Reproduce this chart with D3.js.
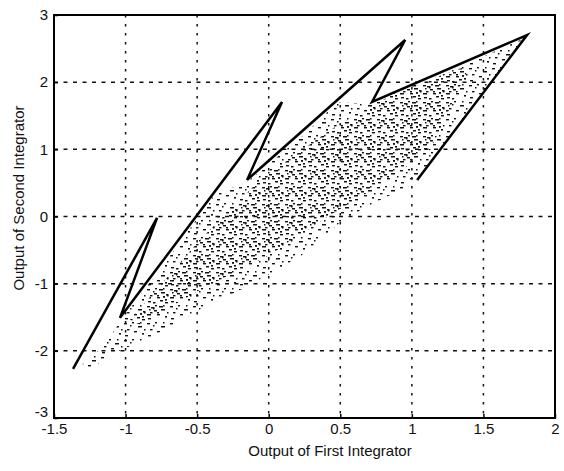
<!DOCTYPE html>
<html>
<head>
<meta charset="utf-8">
<script src="https://cdn.jsdelivr.net/npm/d3@7"></script>
<style>
  body { margin: 0; background: #fff; }
  text { font-family: "Liberation Sans", Arial, sans-serif; fill: #111; }
</style>
</head>
<body>
<div id="chart"></div>
<script>
const FWidth = 564,
  FHeight = 471;
const MARGIN = { LEFT: 54, RIGHT: 9, TOP: 15, BOTTOM: 53 };
const WIDTH = FWidth - (MARGIN.LEFT + MARGIN.RIGHT);
const HEIGHT = FHeight - (MARGIN.TOP + MARGIN.BOTTOM);

// axis ticks
const xTicks = [-1.5, -1, -0.5, 0, 0.5, 1, 1.5, 2];
const xTickLabels = ["-1.5", "-1", "-0.5", "0", "0.5", "1", "1.5", "2"];
const yTicks = [-3, -2, -1, 0, 1, 2, 3];
const yTickLabels = ["-3", "-2", "-1", "0", "1", "2", "3"];

// start-up trajectory (first integrator, second integrator)
const pathX = [-1.367, -0.78, -1.039, 0.093, -0.151, 0.953, 0.722, 1.805, 1.037];
const pathY = [-2.268, -0.021, -1.509, 1.705, 0.545, 2.628, 1.705, 2.702, 0.545];

// outline of the steady-state cloud of points
const cloudX = [-1.304, -1.144, -1.039, -0.689, -0.375, -0.151, 0.219, 0.484, 0.722,
  1.128, 1.477, 1.805, 1.407, 1.037, 0.778, 0.52, 0.219, -0.13, -0.48, -0.829, -1.109, -1.248];
const cloudY = [-2.208, -1.911, -1.568, -0.586, 0.336, 0.515, 1.17, 1.705, 1.676,
  2.032, 2.36, 2.673, 1.586, 0.515, 0.247, -0.051, -0.601, -1.018, -1.39, -1.807, -2.06, -2.283];

// denser core of the cloud
const coreX = [-0.969, -0.48, -0.06, 0.429, 0.918, 1.407, 1.128, 0.778, 0.429, 0.009, -0.48, -0.899];
const coreY = [-1.539, -0.348, 0.545, 1.289, 1.884, 2.256, 0.991, 0.47, 0.024, -0.571, -1.092, -1.613];

const svg = d3
  .select("#chart")
  .append("svg")
  .attr("width", FWidth)
  .attr("height", FHeight);

const g = svg
  .append("g")
  .attr("transform", `translate(${MARGIN.LEFT}, ${MARGIN.TOP})`);

const x = d3.scaleLinear().domain([-1.5, 2]).range([0, WIDTH]);
const y = d3.scaleLinear().domain([-3, 3]).range([HEIGHT, 0]);

// stipple patterns for the point cloud
const defs = svg.append("defs");
function stipple(id, marks) {
  const p = defs
    .append("pattern")
    .attr("id", id)
    .attr("patternUnits", "userSpaceOnUse")
    .attr("width", 23)
    .attr("height", 17);
  p.selectAll("rect")
    .data(marks)
    .join("rect")
    .attr("x", (d) => d[0])
    .attr("y", (d) => d[1])
    .attr("width", (d) => d[2])
    .attr("height", (d) => d[3])
    .attr("fill", "#111");
}
stipple("sparse", [
  [1, 2, 3, 1.4], [9, 1, 2, 1.4], [15, 5, 4, 1.5], [4, 8, 2.5, 1.4],
  [11, 10, 3, 1.4], [19, 12, 2, 1.6], [2, 14, 3, 1.4], [17, 1, 1.5, 1.5],
  [7, 4, 1.5, 1.5], [21, 8, 1.5, 1.5],
]);
stipple("dense", [
  [5, 3, 3.5, 1.5], [13, 2, 4, 1.5], [20, 7, 2.5, 1.6], [8, 6, 3, 1.5],
  [1, 10, 4, 1.5], [14, 13, 3, 1.5], [7, 15, 2.5, 1.5], [17, 9, 2, 1.8],
  [11, 8, 2, 1.5], [3, 5, 1.5, 1.5], [19, 15, 3, 1.4],
]);

// grid
const gridX = xTicks.slice(1, -1);
const gridY = yTicks.slice(1, -1);
g.selectAll(".gx")
  .data(gridX)
  .join("line")
  .attr("class", "gx")
  .attr("x1", (d) => x(d))
  .attr("x2", (d) => x(d))
  .attr("y1", 0)
  .attr("y2", HEIGHT)
  .attr("stroke", "#111")
  .attr("stroke-width", 1.5)
  .attr("stroke-dasharray", "2.5,6.5");
g.selectAll(".gy")
  .data(gridY)
  .join("line")
  .attr("class", "gy")
  .attr("x1", 0)
  .attr("x2", WIDTH)
  .attr("y1", (d) => y(d))
  .attr("y2", (d) => y(d))
  .attr("stroke", "#111")
  .attr("stroke-width", 1.5)
  .attr("stroke-dasharray", "4,5.5");

// point cloud
const area = d3.line().x((d) => x(d[0])).y((d) => y(d[1])).curve(d3.curveLinearClosed);
g.append("path")
  .attr("d", area(d3.zip(cloudX, cloudY)))
  .attr("fill", "url(#sparse)");
g.append("path")
  .attr("d", area(d3.zip(coreX, coreY)))
  .attr("fill", "url(#dense)");

// trajectory
const line = d3.line().x((d) => x(d[0])).y((d) => y(d[1]));
g.append("path")
  .attr("d", line(d3.zip(pathX, pathY)))
  .attr("fill", "none")
  .attr("stroke", "#000")
  .attr("stroke-width", 2.5)
  .attr("stroke-linejoin", "miter");

// axes
const xAxis = d3.axisBottom(x).tickValues(xTicks).tickSize(-4).tickPadding(5)
  .tickFormat((d, i) => xTickLabels[i]);
const yAxis = d3.axisLeft(y).tickValues(yTicks).tickSize(-4).tickPadding(6)
  .tickFormat((d, i) => yTickLabels[i]);

const gx = g.append("g").attr("transform", `translate(0, ${HEIGHT})`).call(xAxis);
const gy = g.append("g").call(yAxis);
[gx, gy].forEach((a) => {
  a.select(".domain").remove();
  a.selectAll("line").attr("stroke", "#000").attr("stroke-width", 1.5);
  a.selectAll("text").style("font-size", "15px").attr("fill", "#111");
});
// lowest y label sits a little higher, clear of the x labels
gy.selectAll(".tick text").filter((d) => d === -3).attr("dy", "-0.1em");

g.append("rect")
  .attr("width", WIDTH)
  .attr("height", HEIGHT)
  .attr("fill", "none")
  .attr("stroke", "#000")
  .attr("stroke-width", 2);

// labels
svg.append("text")
  .attr("x", 330)
  .attr("y", 456)
  .attr("text-anchor", "middle")
  .style("font-size", "15px")
  .text("Output of First Integrator");
svg.append("text")
  .attr("transform", "translate(24, 198) rotate(-90)")
  .attr("text-anchor", "middle")
  .style("font-size", "15px")
  .text("Output of Second Integrator");
</script>
</body>
</html>
